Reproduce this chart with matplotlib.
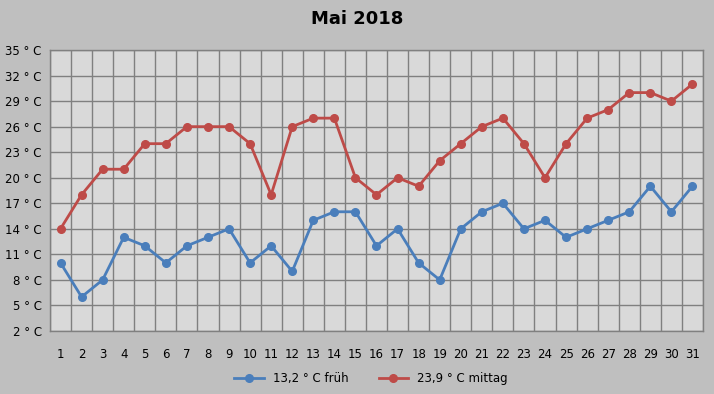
import matplotlib
matplotlib.use("Agg")
import matplotlib.pyplot as plt
import numpy as np

days = list(range(1, 32))
frueh = [10, 6, 8, 13, 12, 10, 12, 13, 14, 10,
         12, 9, 15, 16, 16, 12, 14, 10, 8, 14,
         16, 17, 14, 15, 13, 14, 15, 16, 19, 16, 19]
mittag = [14, 18, 21, 21, 24, 24, 26, 26, 26, 24,
          18, 26, 27, 27, 20, 18, 20, 19, 22, 24,
          26, 27, 24, 20, 24, 27, 28, 30, 30, 29, 31]
y_ticks = list(range(2, 36, 3))
labels = ["13,2 ° C früh", "23,9 ° C mittag"]

plt.rcParams["font.family"] = ["DejaVu Sans"]

fig = plt.figure(figsize=(7.14, 3.94), dpi=100)
fig.patch.set_facecolor("#bfbfbf")
ax = fig.add_axes([0.070, 0.160, 0.9146, 0.713])
ax.set_facecolor("#d9d9d9")

ax.plot(days, frueh, color="#4a7ebb", lw=2, marker="o", ms=5.5, label=labels[0], zorder=3)
ax.plot(days, mittag, color="#be4b48", lw=2, marker="o", ms=5.5, label=labels[1], zorder=3)

ax.set_xlim(0.5, 31.5)
ax.set_ylim(2, 35)
ax.set_yticks(y_ticks)
ax.set_yticklabels([f"{v} ° C" for v in y_ticks])
ax.set_xticks(days)
ax.set_xticks(np.arange(0.5, 32, 1), minor=True)
ax.grid(True, which="minor", axis="x", color="#808080", lw=1.0)
ax.grid(True, which="major", axis="y", color="#808080", lw=1.0)
ax.set_axisbelow(True)
ax.tick_params(which="both", length=0, labelsize=8.5, colors="black")
ax.tick_params(axis="x", pad=12)
ax.tick_params(axis="y", pad=6)
for s in ax.spines.values():
    s.set_color("#808080")
    s.set_linewidth(1.0)

fig.suptitle("Mai 2018", fontsize=13, fontweight="bold", y=0.975)
fig.legend(loc="center", bbox_to_anchor=(0.52, 0.04), ncol=2, frameon=False,
           fontsize=8.5, handlelength=2.5, columnspacing=2.5)

fig.savefig("out.png", dpi=100, facecolor=fig.get_facecolor())
